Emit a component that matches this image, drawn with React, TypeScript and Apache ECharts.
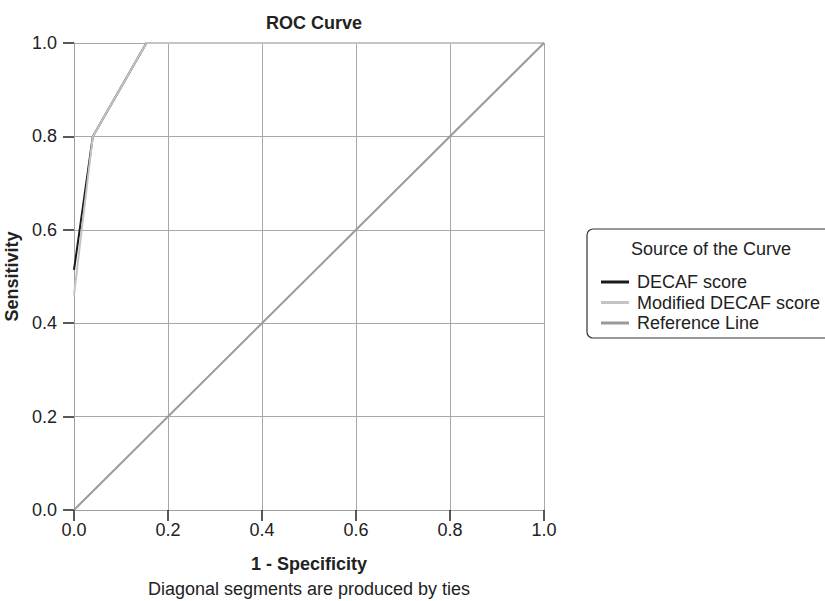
import React, { useEffect, useRef } from "react";
import * as echarts from "echarts";

const decafScore: [number, number][] = [[0, 0.514], [0.04, 0.8], [0.154, 1.0], [1.0, 1.0]];
const modifiedDecafScore: [number, number][] = [[0, 0.46], [0.04, 0.8], [0.154, 1.0], [1.0, 1.0]];
const referenceLine: [number, number][] = [[0, 0], [1, 1]];
const seriesNames = ["DECAF score", "Modified DECAF score", "Reference Line"];
const seriesColors = ["#1a1a1a", "#c4c4c4", "#9a9a9a"];

export default function App() {
  const ref = useRef<HTMLDivElement>(null);
  useEffect(() => {
    if (!ref.current) return;
    const chart = echarts.init(ref.current, undefined, { renderer: "svg" });
    const font = "'Liberation Sans', Arial, sans-serif";
    const axisCommon = {
      type: "value" as const,
      min: 0,
      max: 1,
      interval: 0.2,
      axisLine: { show: true, lineStyle: { color: "#a0a0a0", width: 1 } },
      axisTick: { show: true, length: 11, lineStyle: { color: "#222", width: 1.5 } },
      splitLine: { show: true, lineStyle: { color: "#a8a8a8", width: 1 } },
      nameTextStyle: { fontFamily: font, fontWeight: "bold" as const, fontSize: 18, color: "#222" },
    };
    chart.setOption({
      animation: false,
      backgroundColor: "#fff",
      title: {
        text: "ROC Curve",
        left: 309,
        textAlign: "center",
        top: 9,
        textStyle: { fontFamily: font, fontWeight: "bold", fontSize: 18, color: "#222" },
      },
      grid: { left: 74, right: 281, top: 43, bottom: 91, containLabel: false, outerBoundsMode: "none" },
      xAxis: {
        ...axisCommon,
        name: "1 - Specificity",
        nameLocation: "middle",
        nameGap: 45,
        axisLabel: {
          margin: 11,
          fontFamily: font,
          fontSize: 18,
          color: "#222",
          formatter: (v: number) => v.toFixed(1),
        },
      },
      yAxis: {
        ...axisCommon,
        name: "Sensitivity",
        nameLocation: "middle",
        nameGap: 48,
        axisLabel: {
          margin: 17,
          fontFamily: font,
          fontSize: 18,
          color: "#222",
          formatter: (v: number) => v.toFixed(1),
        },
      },
      legend: {
        orient: "vertical",
        left: 601,
        top: 273,
        padding: 0,
        itemWidth: 28,
        itemHeight: 3,
        itemGap: 2.5,
        icon: "rect",
        data: seriesNames,
        textStyle: { fontFamily: font, fontSize: 18, lineHeight: 18, color: "#222", padding: [0, 0, 0, 3] },
      },
      graphic: [
        {
          type: "rect",
          shape: { x: 587, y: 229, width: 300, height: 109, r: 6 },
          style: { fill: "none", stroke: "#333", lineWidth: 1.2 },
          silent: true,
        },
        {
          type: "text",
          x: 631,
          y: 249,
          style: { text: "Source of the Curve", fontFamily: font, fontSize: 18, fill: "#222", align: "left", verticalAlign: "middle" },
        },
        {
          type: "text",
          x: 309,
          y: 589,
          style: {
            text: "Diagonal segments are produced by ties",
            fontFamily: font,
            fontSize: 18,
            fill: "#222",
            align: "center",
            verticalAlign: "middle",
          },
        },
      ],
      series: [
        {
          name: seriesNames[0],
          type: "line",
          data: decafScore,
          symbol: "none",
          lineStyle: { color: seriesColors[0], width: 2 },
          itemStyle: { color: seriesColors[0] },
          z: 2,
        },
        {
          name: seriesNames[1],
          type: "line",
          data: modifiedDecafScore,
          symbol: "none",
          lineStyle: { color: seriesColors[1], width: 2 },
          itemStyle: { color: seriesColors[1] },
          z: 3,
        },
        {
          name: seriesNames[2],
          type: "line",
          data: referenceLine,
          symbol: "none",
          lineStyle: { color: seriesColors[2], width: 2 },
          itemStyle: { color: seriesColors[2] },
          z: 4,
        },
      ],
    });
    return () => chart.dispose();
  }, []);
  return <div ref={ref} style={{ width: 825, height: 601, position: "absolute", left: 0, top: 0 }} />;
}
